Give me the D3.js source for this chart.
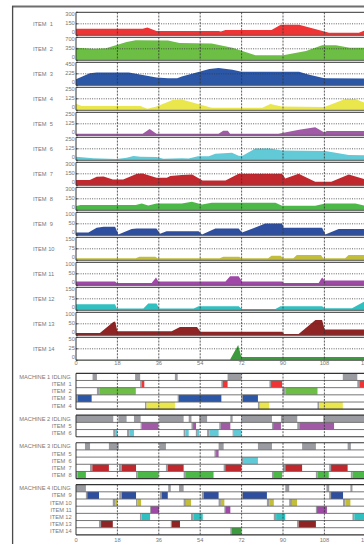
<!DOCTYPE html>
<html><head><meta charset="utf-8">
<script src="https://cdn.jsdelivr.net/npm/d3@7/dist/d3.min.js"></script>
<style>
body{margin:0;background:#fff;overflow:hidden}
text{font-family:"Liberation Sans",Arial,sans-serif;fill:#777;white-space:pre}
</style>
</head><body>
<svg id="c" width="364" height="544"></svg>
<script>
// ---------- DATA ----------
const itemNames = ["ITEM  1","ITEM  2","ITEM  3","ITEM  4","ITEM  5","ITEM  6","ITEM  7","ITEM  8","ITEM  9","ITEM 10","ITEM 11","ITEM 12","ITEM 13","ITEM 14"];
const itemMax = [300,700,450,250,250,250,300,300,100,150,100,150,100,50];
const itemColors = ["#ee3434","#6dbe45","#2b57a6","#eae74c","#a05aa6","#62c9d6","#c0282e","#4cb848","#2e4fa0","#c2be3c","#a048a8","#30c0bf","#8e2424","#3e9a3e"];
const xTicks = [0,18,36,54,72,90,108,126];

const item1 = [[0,85],[29,85],[31,101],[35,55],[62,55],[63,48],[65,68],[85,68],[89,139],[97,139],[110,34],[123,34],[126,70]];
const item2 = [[0,385],[8,355],[13,365],[22,560],[26,610],[40,600],[45,530],[59,510],[68,385],[78,152],[90,152],[100,284],[107,456],[113,456],[119,385],[126,385]];
const item3 = [[0,120],[6,235],[9,250],[23,250],[29,200],[35,152],[40,140],[44,140],[46,172],[58,318],[62,338],[68,304],[72,265],[97,265],[101,212],[108,140],[126,132]];
const item4 = [[0,70],[2.5,47],[28,47],[31,18],[35,40],[42,112],[46,118],[59,29],[81,29],[84.5,69],[89.5,40],[108,35],[117,123],[121.5,123],[126,76]];
const item5 = [[0,17],[29,17],[32,68],[35,17],[62,17],[64,50],[66,50],[67,17],[88,17],[97,60],[104,87],[108,30],[109,48],[126,48]];
const item6 = [[0,39],[7.5,21],[17.7,14],[22,29],[25,46],[28,39],[35,36],[38,18],[46,22],[49,20],[53,43],[57.7,43],[60.6,71],[67.8,82],[70.7,50],[72.2,46],[78,129],[84,129],[89.6,107],[108.4,100],[118.6,57],[126,55]];
const item7 = [[0,69],[6,69],[9,111],[12,116],[16,77],[20.5,77],[26.5,150],[29,154],[35,99],[39.5,99],[41,120],[46,133],[50.5,141],[55,64],[65,64],[70.7,150],[89.6,150],[91,90],[96.8,150],[104,47],[111,47],[118.6,141],[126,77]];
const item8 = [[0,56],[2,69],[26,69],[28.6,90],[31.4,64],[35,90],[46,90],[50.4,111],[54.8,77],[59,99],[86.7,99],[89.6,60],[104,60],[108.4,90],[121.5,90],[126,56]];
const item9 = [[0,12],[5.4,12],[9,33],[12,37],[17,37],[18.4,4],[24.2,27],[26.4,30],[35,30],[36.5,7],[39.4,18],[53.3,18],[54.8,4],[60.6,30],[70.7,30],[72.2,12],[82.3,51],[89.6,51],[90.3,33],[107,33],[108.4,4],[114.2,27],[126,27]];
const item10 = [[0,13],[26,13],[27.5,23],[34.5,23],[35.5,13],[62.5,13],[64,23],[71,23],[72,13],[83.5,13],[85,30],[89,30],[90,13],[94.5,13],[96,35],[106.5,35],[107.5,13],[117,13],[118.5,35],[126,35]];
const item11 = [[0,17],[17,17],[17.7,10],[32.9,10],[34.8,34],[35.8,17],[65,17],[67,39],[70.7,39],[72.2,17],[89.6,17],[90.3,10],[105.5,10],[107,34],[108.1,21],[126,21]];
const item12 = [[0,40],[17,40],[17.7,11],[29.3,11],[31.4,44],[35,44],[36.2,11],[51.2,11],[53.3,26],[70.7,26],[72.2,9],[86.7,9],[88.9,26],[107,26],[108.1,13],[120,13],[125.2,55],[126,58]];
const item13 = [[0,10],[10.4,10],[16.2,58],[17,60],[18,18],[41.6,18],[45.2,36],[52.6,36],[54.1,15],[89.6,15],[90.5,6],[96.8,6],[104.1,67],[107,67],[108.1,25],[126,25]];
const item14 = [[0,2],[67,2],[70.5,33],[71.9,7],[126,7]];
const itemSeries = [item1,item2,item3,item4,item5,item6,item7,item8,item9,item10,item11,item12,item13,item14];

// Gantt: idle rows [start,end]; item rows [setupStart,start,end]
const m1Idle = [[7.2,9.1],[25.7,27.9],[43,44.2],[65.9,71.9],[116,122.3]];
const m1Item1 = [[27.9,28.5,29.7],[63.2,63.9,65.9],[84.1,84.8,89.6],[122.3,123.2,127]];
const m1Item2 = [[9.1,10.1,26],[89.8,91,105]];
const m1Item3 = [[0,0.7,6.8],[44.2,44.7,63.2],[71.9,72.6,79.1]];
const m1Item4 = [[30,30.7,43],[79.1,79.9,84],[105,105.8,116]];

const m2Idle = [[0,16.2],[18.4,22],[25.2,28.1],[36.2,46.8],[49,50.2],[53.6,57],[67.1,68.1],[71.9,85.2],[89.1,96.2],[107.5,127]];
const m2Item5 = [[28.1,28.5,35.8],[50.2,50.9,52.2],[62.3,63,67.1],[85.2,85.7,89.1],[96.2,97.1,112.2]];
const m2Item6 = [[16.2,17,18],[22.2,23.2,25.2],[46.8,47.5,49],[52.1,52.6,53.6],[57,58,62],[68.1,68.6,71.9]];

const m3Idle = [[3.9,6.1],[14.3,18.6],[36.2,39.1],[62,64.2],[79.1,85.2],[98.3,104.3],[118.1,119.5]];
const m3Item5 = [[60.2,60.9,62]];
const m3Item6 = [[71.9,72.6,79.1]];
const m3Item7 = [[6.1,7.1,14.3],[18.7,20,26.1],[39.1,39.9,46.8],[64.2,64.9,71.9],[90,91,98.3],[110.1,110.9,118.1]];
const m3Item8 = [[0,0.7,4.3],[26.1,26.8,35.9],[46.8,47.8,59.8],[85.2,85.7,89.6],[104.3,105.1,109.9],[119.5,120.3,127]];

const m4Idle = [[0,4.3],[40.1,41.2],[44.8,46.8],[91,92.7],[108.9,110.1],[119.3,120.2]];
const m4Item9 = [[4.3,4.9,10],[18.8,19.9,26.1],[36.5,37.2,39.9],[54.7,55.5,62],[71.9,72.6,83],[110.1,110.9,116.1]];
const m4Item10 = [[16,17,18],[26.1,26.8,28.3],[46.8,47.8,50],[62,63,64.5],[83,84,86],[92.7,93.9,96.1],[116.1,117.1,119.3]];
const m4Item11 = [[32.2,32.6,36.1],[64.5,64.9,67.1],[104.3,104.8,109.1]];
const m4Item12 = [[27.8,28.5,32.2],[50,51.2,55.1],[86,87,91],[120.2,121,127]];
const m4Item13 = [[10,10.9,16],[41.2,41.6,45.2],[96.1,96.8,104.3]];
const m4Item14 = [[67.1,67.8,71.9]];

const machines = [
  {label:"MACHINE 1 IDLING", idle:m1Idle, rows:[[0,m1Item1],[1,m1Item2],[2,m1Item3],[3,m1Item4]]},
  {label:"MACHINE 2 IDLING", idle:m2Idle, rows:[[4,m2Item5],[5,m2Item6]]},
  {label:"MACHINE 3 IDLING", idle:m3Idle, rows:[[4,m3Item5],[5,m3Item6],[6,m3Item7],[7,m3Item8]]},
  {label:"MACHINE 4 IDLING", idle:m4Idle, rows:[[8,m4Item9],[9,m4Item10],[10,m4Item11],[11,m4Item12],[12,m4Item13],[13,m4Item14]]}
];

// ---------- LAYOUT ----------
const svg = d3.select("#c");
const X0 = 76, X1 = 370;
const x = d3.scaleLinear().domain([0,126]).range([76, 365.8]);
const GRAY = "#9b9ca1";
const FS = 5.7;

// figure border
svg.append("line").attr("x1",12).attr("x2",364).attr("y1",6.5).attr("y2",6.5).attr("stroke","#6e6e6e").attr("stroke-width",2);
svg.append("line").attr("x1",12.6).attr("x2",12.6).attr("y1",6).attr("y2",544).attr("stroke","#4a4a4a").attr("stroke-width",1.3);

const PT = 12.3, PP = 25, PH = 23;
itemSeries.forEach((series,i)=>{
  const top = PT + PP*i, bot = top + PH;
  const y = d3.scaleLinear().domain([0,itemMax[i]]).range([bot, top]);
  const g = svg.append("g");
  const area = d3.area().x(d=>x(d[0])).y0(bot).y1(d=>y(d[1]));
  g.append("path").datum(series).attr("d",area).attr("fill",itemColors[i]);
  // mid gridline
  g.append("line").attr("x1",X0).attr("x2",X1).attr("y1",y(itemMax[i]/2)).attr("y2",y(itemMax[i]/2))
    .attr("stroke","#3a3a3a").attr("stroke-width",0.8).attr("stroke-dasharray","1,1.3");
  // vertical gridlines
  g.selectAll("line.v").data(xTicks.slice(1)).enter().append("line")
    .attr("x1",d=>x(d)).attr("x2",d=>x(d)).attr("y1",top).attr("y2",bot)
    .attr("stroke","#333").attr("stroke-width",0.8).attr("stroke-dasharray","2,1.2");
  // frame
  g.append("line").attr("x1",X0).attr("x2",X1).attr("y1",top).attr("y2",top).attr("stroke","#333").attr("stroke-width",1);
  g.append("line").attr("x1",X0).attr("x2",X1).attr("y1",bot).attr("y2",bot).attr("stroke","#555").attr("stroke-width",1);
  g.append("line").attr("x1",X0).attr("x2",X0).attr("y1",top).attr("y2",bot).attr("stroke","#333").attr("stroke-width",1);
  // y ticks
  const tv = [itemMax[i], itemMax[i]/2, 0];
  const off = [1.4, -0.5, -3];
  tv.forEach((v,k)=>{
    g.append("line").attr("x1",X0).attr("x2",X0+2).attr("y1",y(v)).attr("y2",y(v)).attr("stroke","#333").attr("stroke-width",0.8);
    g.append("text").attr("x",74.8).attr("y",y(v)+off[k]).attr("dy","0.35em").attr("text-anchor","end")
      .attr("font-size",FS).text(v);
  });
  g.append("text").attr("x",33).attr("y",(top+bot)/2).attr("dy","0.35em").attr("font-size",FS).text(itemNames[i]);
});
// x tick labels under panels
svg.selectAll("text.xt1").data(xTicks).enter().append("text")
  .attr("x",d=>x(d)).attr("y",363.5).attr("dy","0.35em").attr("text-anchor","middle").attr("font-size",FS).text(d=>d);

// ---------- GANTT ----------
const RH = 7.18, GAP = 6;
let gy = 373.3;
machines.forEach(m=>{
  const nRows = m.rows.length + 1;
  const g = svg.append("g");
  const rows = [{label:m.label, idle:true, data:m.idle}].concat(m.rows.map(r=>({label:itemNames[r[0]], color:itemColors[r[0]], data:r[1]})));
  rows.forEach((r,k)=>{
    const ry = gy + k*RH;
    g.append("rect").attr("x",X0).attr("y",ry).attr("width",X1-X0).attr("height",RH).attr("fill","#fff");
    if (r.idle) {
      r.data.forEach(d=>{
        g.append("rect").attr("x",x(d[0])).attr("y",ry).attr("width",x(d[1])-x(d[0])).attr("height",RH).attr("fill",GRAY);
      });
    } else {
      r.data.forEach(d=>{
        g.append("rect").attr("x",x(d[0])).attr("y",ry).attr("width",x(d[1])-x(d[0])).attr("height",RH).attr("fill",GRAY);
        g.append("rect").attr("x",x(d[1])).attr("y",ry).attr("width",x(d[2])-x(d[1])).attr("height",RH).attr("fill",r.color);
      });
    }
    g.append("text").attr("x", r.idle ? 70.8 : 71.6).attr("y",ry+RH/2).attr("dy","0.35em").attr("text-anchor","end")
      .attr("font-size",FS).text(r.label);
  });
  // row lines
  for (let k=1;k<nRows;k++){
    g.append("line").attr("x1",X0).attr("x2",X1).attr("y1",gy+k*RH).attr("y2",gy+k*RH).attr("stroke","#666").attr("stroke-width",0.9);
  }
  // vertical gridlines
  g.selectAll("line.v").data(xTicks.slice(1)).enter().append("line")
    .attr("x1",d=>x(d)).attr("x2",d=>x(d)).attr("y1",gy).attr("y2",gy+nRows*RH)
    .attr("stroke","#333").attr("stroke-width",0.8).attr("stroke-dasharray","2,1.2");
  g.append("line").attr("x1",X0).attr("x2",X1).attr("y1",gy).attr("y2",gy).attr("stroke","#333").attr("stroke-width",1.2);
  g.append("line").attr("x1",X0).attr("x2",X1).attr("y1",gy+nRows*RH).attr("y2",gy+nRows*RH).attr("stroke","#333").attr("stroke-width",1.2);
  g.append("line").attr("x1",X0).attr("x2",X0).attr("y1",gy).attr("y2",gy+nRows*RH).attr("stroke","#333").attr("stroke-width",1);
  gy += nRows*RH + GAP;
});
svg.selectAll("text.xt2").data(xTicks).enter().append("text")
  .attr("x",d=>x(d)).attr("y",539.6).attr("dy","0.35em").attr("text-anchor","middle").attr("font-size",FS).text(d=>d);
</script>
</body></html>
